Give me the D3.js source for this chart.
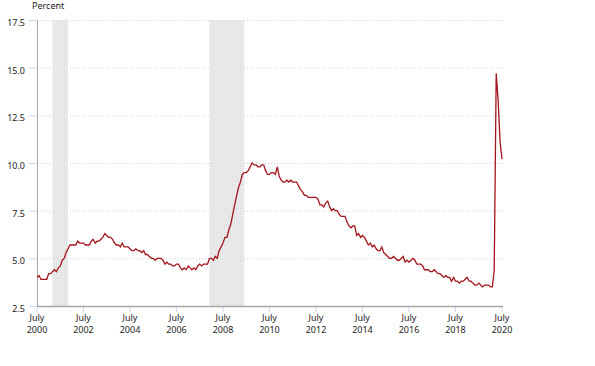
<!DOCTYPE html>
<html>
<head>
<meta charset="utf-8">
<script src="https://cdn.jsdelivr.net/npm/d3@7"></script>
<style>
  body { margin: 0; background: #fff; }
  text { font-family: "Noto Sans", "DejaVu Sans", sans-serif; fill: #222; }
</style>
</head>
<body>
<script>
// monthly unemployment rate, July 2000 .. July 2020
var startMonth = "2000-07"
var rates = [
  4.0, 4.1, 3.9, 3.9, 3.9, 3.9,                                  // 2000 Jul-Dec
  4.2, 4.2, 4.3, 4.4, 4.3, 4.5, 4.6, 4.9, 5.0, 5.3, 5.5, 5.7,     // 2001
  5.7, 5.7, 5.7, 5.9, 5.8, 5.8, 5.8, 5.7, 5.7, 5.7, 5.9, 6.0,     // 2002
  5.8, 5.9, 5.9, 6.0, 6.1, 6.3, 6.2, 6.1, 6.1, 6.0, 5.8, 5.7,     // 2003
  5.7, 5.6, 5.8, 5.6, 5.6, 5.6, 5.5, 5.4, 5.4, 5.5, 5.4, 5.4,     // 2004
  5.3, 5.4, 5.2, 5.2, 5.1, 5.0, 5.0, 4.9, 5.0, 5.0, 5.0, 4.9,     // 2005
  4.7, 4.8, 4.7, 4.7, 4.6, 4.6, 4.7, 4.7, 4.5, 4.4, 4.5, 4.4,     // 2006
  4.6, 4.5, 4.4, 4.5, 4.4, 4.6, 4.7, 4.6, 4.7, 4.7, 4.7, 5.0,     // 2007
  5.0, 4.9, 5.1, 5.0, 5.4, 5.6, 5.8, 6.1, 6.1, 6.5, 6.8, 7.3,     // 2008
  7.8, 8.3, 8.7, 9.0, 9.4, 9.5, 9.5, 9.6, 9.8, 10.0, 9.9, 9.9,    // 2009
  9.8, 9.8, 9.9, 9.9, 9.6, 9.4, 9.4, 9.5, 9.5, 9.4, 9.8, 9.3,     // 2010
  9.1, 9.0, 9.0, 9.1, 9.0, 9.1, 9.0, 9.0, 9.0, 8.8, 8.6, 8.5,     // 2011
  8.3, 8.3, 8.2, 8.2, 8.2, 8.2, 8.2, 8.1, 7.8, 7.8, 7.7, 7.9,     // 2012
  8.0, 7.7, 7.5, 7.6, 7.5, 7.5, 7.3, 7.2, 7.2, 7.2, 6.9, 6.7,     // 2013
  6.6, 6.7, 6.7, 6.2, 6.3, 6.1, 6.2, 6.1, 5.9, 5.7, 5.8, 5.6,     // 2014
  5.7, 5.5, 5.4, 5.4, 5.6, 5.3, 5.2, 5.1, 5.0, 5.0, 5.1, 5.0,     // 2015
  4.9, 4.9, 5.0, 5.1, 4.8, 4.9, 4.8, 4.9, 5.0, 4.9, 4.7, 4.7,     // 2016
  4.7, 4.6, 4.4, 4.4, 4.4, 4.3, 4.3, 4.4, 4.3, 4.2, 4.2, 4.1,     // 2017
  4.0, 4.1, 4.0, 4.0, 3.8, 4.0, 3.8, 3.8, 3.7, 3.8, 3.8, 3.9,     // 2018
  4.0, 3.8, 3.8, 3.7, 3.6, 3.6, 3.7, 3.6, 3.5, 3.6, 3.6, 3.6,     // 2019
  3.5, 3.5, 4.4, 14.7, 13.3, 11.1, 10.2                           // 2020 Jan-Jul
]
var recessions = [["2001-03", "2001-11"], ["2007-12", "2009-06"]]
var yTicks = [2.5, 5.0, 7.5, 10.0, 12.5, 15.0, 17.5]
var xTickYears = [2000, 2002, 2004, 2006, 2008, 2010, 2012, 2014, 2016, 2018, 2020]

var W = 595, H = 366
var mLeft = 37, mRight = 502, mTop = 20, mBottom = 306
var parseMonth = d3.timeParse("%Y-%m")

var svg = d3.select("body").append("svg")
  .attr("width", W).attr("height", H)

// dotted fill for the recession bands
var pat = svg.append("defs").append("pattern")
  .attr("id", "dots").attr("width", 2).attr("height", 2)
  .attr("patternUnits", "userSpaceOnUse")
pat.append("rect").attr("width", 2).attr("height", 2).attr("fill", "#ebebeb")
pat.append("rect").attr("width", 1).attr("height", 1).attr("fill", "#dcdcdc")

var x = d3.scaleTime()
  .domain([parseMonth("2000-07"), parseMonth("2020-07")])
  .range([mLeft, mRight])
var y = d3.scaleLinear().domain([2.5, 17.5]).range([mBottom, mTop])

var t0 = parseMonth(startMonth)
var series = rates.map(function(v, i) {
  return { date: d3.timeMonth.offset(t0, i), value: v }
})

// gridlines
svg.append("g").selectAll("line")
  .data(yTicks.slice(1))
  .enter().append("line")
  .attr("x1", mLeft).attr("x2", mRight + 1)
  .attr("y1", function(d) { return y(d) + 0.5 })
  .attr("y2", function(d) { return y(d) + 0.5 })
  .style("stroke", "#cfcfcf")
  .style("stroke-dasharray", "1,2")

// recession bands
svg.append("g").selectAll("rect")
  .data(recessions)
  .enter().append("rect")
  .attr("x", function(d) { return x(parseMonth(d[0])) })
  .attr("width", function(d) { return x(parseMonth(d[1])) - x(parseMonth(d[0])) })
  .attr("y", mTop)
  .attr("height", mBottom - mTop)
  .attr("fill", "url(#dots)")

// y axis
var yAxis = svg.append("g")
yAxis.append("line")
  .attr("x1", mLeft + 0.5).attr("x2", mLeft + 0.5)
  .attr("y1", mTop).attr("y2", mBottom)
  .style("stroke", "#a6a6a6")
yAxis.selectAll("line.tick")
  .data(yTicks)
  .enter().append("line").attr("class", "tick")
  .attr("x1", 29).attr("x2", mLeft)
  .attr("y1", function(d) { return y(d) + 0.5 })
  .attr("y2", function(d) { return y(d) + 0.5 })
  .style("stroke", "#c9d8ee")
yAxis.selectAll("text")
  .data(yTicks)
  .enter().append("text")
  .attr("x", 25)
  .attr("y", function(d) { return y(d) + 6 })
  .attr("text-anchor", "end")
  .style("font-size", "9px")
  .text(function(d) { return d3.format(".1f")(d) })

svg.append("text")
  .attr("x", 32).attr("y", 9)
  .style("font-size", "9px")
  .text("Percent")

// x axis
var xAxis = svg.append("g")
xAxis.selectAll("line.tick")
  .data(xTickYears)
  .enter().append("line").attr("class", "tick")
  .attr("x1", function(d) { return x(new Date(d, 6, 1)) })
  .attr("x2", function(d) { return x(new Date(d, 6, 1)) })
  .attr("y1", mBottom).attr("y2", mBottom + 6)
  .style("stroke", "#c9d8ee")
xAxis.append("line")
  .attr("x1", mLeft).attr("x2", mRight + 1)
  .attr("y1", mBottom + 0.5).attr("y2", mBottom + 0.5)
  .style("stroke", "#a6a6a6")
  .style("stroke-width", 1.5)
xAxis.selectAll("text.month")
  .data(xTickYears)
  .enter().append("text").attr("class", "month")
  .attr("x", function(d) { return x(new Date(d, 6, 1)) })
  .attr("y", 320.5)
  .attr("text-anchor", "middle")
  .style("font-size", "9px")
  .text("July")
xAxis.selectAll("text.year")
  .data(xTickYears)
  .enter().append("text").attr("class", "year")
  .attr("x", function(d) { return x(new Date(d, 6, 1)) })
  .attr("y", 333)
  .attr("text-anchor", "middle")
  .style("font-size", "9px")
  .text(function(d) { return d })

// the line
var line = d3.line()
  .x(function(d) { return x(d.date) })
  .y(function(d) { return y(d.value) })

svg.append("path")
  .datum(series)
  .attr("d", line)
  .style("fill", "none")
  .style("stroke", "#a3141c")
  .style("stroke-width", 1.3)
</script>
</body>
</html>
